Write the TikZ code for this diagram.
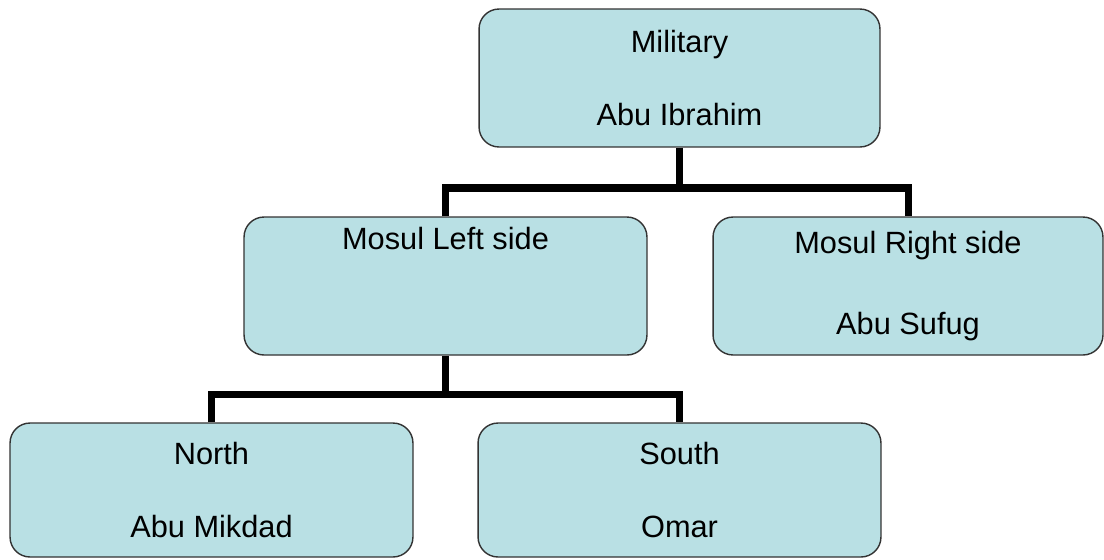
\documentclass[tikz,border=0pt]{standalone}
\usepackage{fontspec}
\setmainfont{Liberation Sans}
\usepackage{tikz}
\definecolor{boxblue}{RGB}{185,224,228}

\begin{document}
\begin{tikzpicture}[x=0.02cm,y=-0.02cm,
    unit/.style={shape=rectangle,rounded corners=0.4cm,draw=black!80,line width=0.8pt,fill=boxblue,
        align=center,font=\fontsize{17.5}{42}\selectfont,minimum height=2.76cm,inner sep=0pt},
    link/.style={line width=4pt}]
    \useasboundingbox (0,0) rectangle (1104,559);
	\node[unit,minimum width=8.02cm] (mil) at (679.5,78) {Military\\Abu Ibrahim};
	\node[unit,minimum width=8.06cm] (ml) at (445.5,286) {Mosul Left side\\ \strut};
	\node[unit,minimum width=7.8cm,font=\fontsize{17.5}{46}\selectfont] (mr) at (908,286) {Mosul Right side\\Abu Sufug};
	\node[unit,minimum width=8.06cm,minimum height=2.68cm] (north) at (211.5,490) {North\\Abu Mikdad};
	\node[unit,minimum width=8.06cm,minimum height=2.68cm] (south) at (679.5,490) {South\\Omar};
	\coordinate (bus1) at (0,188); % upper bar
	\coordinate (bus2) at (0,394); % lower bar
	\draw[link] (mil.south) -- (mil.south |- bus1);
	\draw[link] (ml.north) |- (bus1 -| mr.north) -- (mr.north);
	\draw[link] (ml.south) -- (ml.south |- bus2);
	\draw[link] (north.north) |- (bus2 -| south.north) -- (south.north);
\end{tikzpicture}
\end{document}
